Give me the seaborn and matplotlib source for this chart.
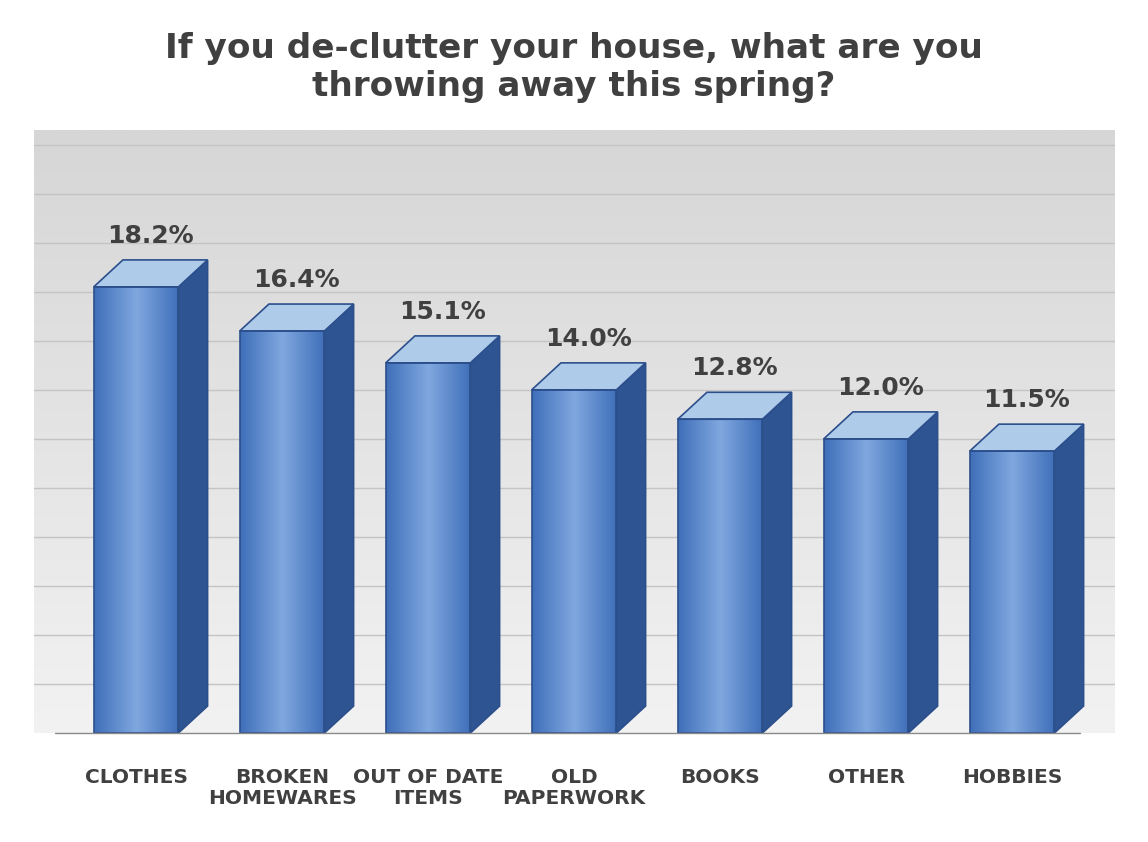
import numpy as np
import matplotlib.pyplot as plt
import seaborn as sns
from matplotlib.patches import Polygon
from matplotlib.colors import LinearSegmentedColormap

categories = ["CLOTHES", "BROKEN\nHOMEWARES", "OUT OF DATE\nITEMS", "OLD\nPAPERWORK",
              "BOOKS", "OTHER", "HOBBIES"]
values = [18.2, 16.4, 15.1, 14.0, 12.8, 12.0, 11.5]

sns.set_style("white")
plt.rcParams['font.family'] = ['DejaVu Sans']
text_col = "#404040"

fig = plt.figure(figsize=(11.48, 8.42), dpi=100)
ax = fig.add_axes([34 / 1148, 1 - 733 / 842, (1115 - 34) / 1148, (733 - 130) / 842])

sns.barplot(x=categories, y=values, ax=ax, width=0.58, color="#5b8bd0",
            edgecolor="#2c4f8c", linewidth=1.2, zorder=3)

ymax = 24.6
ax.set_xlim(-0.699, 6.705)
ax.set_ylim(0, ymax)

# background gradient
bg = LinearSegmentedColormap.from_list("bg", ["#f2f2f2", "#d6d6d6"])
ax.imshow(np.linspace(0, 1, 256).reshape(-1, 1), cmap=bg, aspect="auto",
          extent=[-0.699, 6.705, 0, ymax], origin="lower", zorder=0)
for g in np.arange(2, ymax, 2):
    ax.axhline(g, color="#c4c4c4", lw=1, zorder=1)

front = LinearSegmentedColormap.from_list("front", ["#3f6fba", "#80a8df", "#3f6fba"])
dx, dy = 0.2, 1.1
for p, v in zip(ax.patches, values):
    x0, w, h = p.get_x(), p.get_width(), p.get_height()
    grad = np.linspace(0, 1, 256).reshape(1, -1)
    im = ax.imshow(grad, cmap=front, aspect="auto", extent=[x0, x0 + w, 0, h], zorder=3)
    im.set_clip_path(p)
    p.set_facecolor("none")
    p.set_zorder(4)
    side = Polygon([(x0 + w, 0), (x0 + w + dx, dy), (x0 + w + dx, h + dy), (x0 + w, h)],
                   closed=True, facecolor="#2e5592", edgecolor="#2c4f8c", lw=1.2, zorder=3)
    top = Polygon([(x0, h), (x0 + dx, h + dy), (x0 + w + dx, h + dy), (x0 + w, h)],
                  closed=True, facecolor="#aecbea", edgecolor="#2c4f8c", lw=1.2, zorder=3)
    ax.add_patch(side)
    ax.add_patch(top)
    ax.text(x0 + w / 2 + 0.1, h + dy + 0.5, f"{v:.1f}%", ha="center", va="bottom",
            fontsize=18, fontweight="bold", color=text_col, zorder=5)

ax.plot([-0.555, 6.466], [0, 0], color="#8a8a8a", lw=1, zorder=5, clip_on=False)

ax.set_yticks([])
ax.tick_params(axis="x", length=0, pad=25)
for lab in ax.get_xticklabels():
    lab.set_fontsize(14.5)
    lab.set_fontweight("bold")
    lab.set_color(text_col)
    lab.set_va("top")
    lab.set_linespacing(1.15)
for s in ax.spines.values():
    s.set_visible(False)

fig.suptitle("If you de-clutter your house, what are you\nthrowing away this spring?",
             fontsize=24.7, fontweight="bold", color=text_col, y=0.962, linespacing=1.2)

fig.savefig("out.png", dpi=100)
